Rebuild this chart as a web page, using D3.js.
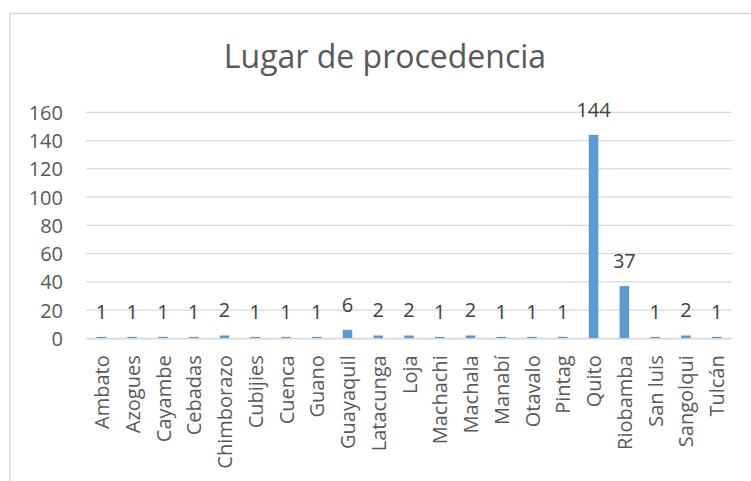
<!DOCTYPE html>
<html><head><meta charset="utf-8">
<script src="https://cdn.jsdelivr.net/npm/d3@7"></script>
<style>html,body{margin:0;padding:0;background:#fff;}svg{display:block;}</style>
</head><body>
<svg id="chart" width="751" height="481"></svg>
<script>
const categories = ["Ambato","Azogues","Cayambe","Cebadas","Chimborazo","Cubijies","Cuenca","Guano","Guayaquil","Latacunga","Loja","Machachi","Machala","Manabí","Otavalo","Pintag","Quito","Riobamba","San luis","Sangolqui","Tulcán"];
const values = [1,1,1,1,2,1,1,1,6,2,2,1,2,1,1,1,144,37,1,2,1];
const yTicks = [0,20,40,60,80,100,120,140,160];
const title = "Lugar de procedencia";

const svg = d3.select("#chart");
const font = "'Open Sans', 'Noto Sans', sans-serif";

// chart border (extends beyond right/bottom edges)
svg.append("rect").attr("x",10).attr("y",13.5).attr("width",760).attr("height",500)
  .attr("fill","#fff").attr("stroke","#d9d9d9").attr("stroke-width",1.5);

const plotL = 86, plotR = 732, plotT = 112.3, plotB = 338.3;
const x = d3.scaleBand().domain(categories).range([plotL,plotR]).padding(0);
const y = d3.scaleLinear().domain([0,160]).range([plotB,plotT]);
const barW = x.bandwidth()*0.31;

svg.append("text").attr("x",385).attr("y",68).attr("text-anchor","middle")
  .attr("font-family",font).attr("font-size",32).attr("fill","#595959").text(title);

// gridlines
svg.append("g").selectAll("line").data(yTicks).join("line")
  .attr("x1",plotL).attr("x2",plotR).attr("y1",d=>y(d)).attr("y2",d=>y(d))
  .attr("stroke","#d9d9d9").attr("stroke-width",1.2);

// y axis labels
const yAxis = d3.axisLeft(y).tickValues(yTicks).tickSize(0).tickPadding(0);
const gy = svg.append("g").attr("transform",`translate(63,0)`).call(yAxis);
gy.select(".domain").remove();
gy.selectAll("text").attr("font-family",font).attr("font-size",20).attr("fill","#595959").attr("dy","0.35em");

// bars
svg.append("g").selectAll("rect").data(values).join("rect")
  .attr("x",(d,i)=>x(categories[i])+x.bandwidth()/2-barW/2)
  .attr("width",barW)
  .attr("y",d=>y(d)).attr("height",d=>plotB-y(d))
  .attr("fill","#5b9bd5");

// data labels
svg.append("g").selectAll("text").data(values).join("text")
  .attr("x",(d,i)=>x(categories[i])+x.bandwidth()/2)
  .attr("y",d=>y(d)-18)
  .attr("text-anchor","middle")
  .attr("font-family",font).attr("font-size",20).attr("fill","#404040")
  .text(d=>d);

// x axis
const xAxis = d3.axisBottom(x).tickSize(0).tickPadding(0);
const gx = svg.append("g").attr("transform",`translate(0,${plotB})`).call(xAxis);
gx.select(".domain").attr("stroke","#d9d9d9").attr("stroke-width",1.2);
gx.selectAll("text")
  .attr("font-family",font).attr("font-size",20).attr("fill","#595959")
  .attr("text-anchor","end")
  .attr("transform","rotate(-90)")
  .attr("x",-17).attr("y",0).attr("dy","0.38em");
</script>
</body></html>
